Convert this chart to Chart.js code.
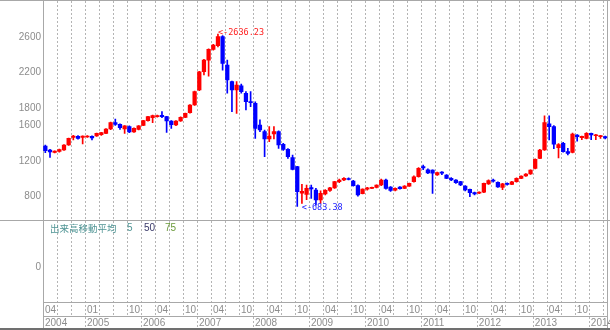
<!DOCTYPE html>
<html><head><meta charset="utf-8">
<script src="https://cdn.jsdelivr.net/npm/chart.js@4.4.1/dist/chart.umd.min.js"></script>
<style>html,body{margin:0;padding:0;background:#fff;overflow:hidden}canvas{display:block}</style>
</head><body>
<canvas id="c" width="610" height="330"></canvas>
<script>
const categories = [
"2004-04","2004-05","2004-06","2004-07","2004-08","2004-09","2004-10","2004-11","2004-12",
"2005-01","2005-02","2005-03","2005-04","2005-05","2005-06","2005-07","2005-08","2005-09","2005-10","2005-11","2005-12",
"2006-01","2006-02","2006-03","2006-04","2006-05","2006-06","2006-07","2006-08","2006-09","2006-10","2006-11","2006-12",
"2007-01","2007-02","2007-03","2007-04","2007-05","2007-06","2007-07","2007-08","2007-09","2007-10","2007-11","2007-12",
"2008-01","2008-02","2008-03","2008-04","2008-05","2008-06","2008-07","2008-08","2008-09","2008-10","2008-11","2008-12",
"2009-01","2009-02","2009-03","2009-04","2009-05","2009-06","2009-07","2009-08","2009-09","2009-10","2009-11","2009-12",
"2010-01","2010-02","2010-03","2010-04","2010-05","2010-06","2010-07","2010-08","2010-09","2010-10","2010-11","2010-12",
"2011-01","2011-02","2011-03","2011-04","2011-05","2011-06","2011-07","2011-08","2011-09","2011-10","2011-11","2011-12",
"2012-01","2012-02","2012-03","2012-04","2012-05","2012-06","2012-07","2012-08","2012-09","2012-10","2012-11","2012-12",
"2013-01","2013-02","2013-03","2013-04","2013-05","2013-06","2013-07","2013-08","2013-09","2013-10","2013-11","2013-12",
"2014-01","2014-02","2014-03","2014-04"];

const opens = [1369,1324,1297,1309,1324,1380,1467,1479,1467,1471,
1479,1482,1497,1512,1562,1633,1614,1562,1588,1528,
1558,1603,1656,1690,1701,1716,1701,1652,1607,1652,
1694,1747,1833,2003,2210,2342,2463,2505,2607,2286,
2098,2003,2049,1966,1871,1852,1607,1531,1448,1505,
1531,1388,1331,1237,1135,835,821,897,870,757,
825,865,895,965,985,1000,972,920,830,880,
890,901,927,984,905,868,905,890,915,965,
1021,1135,1100,1097,1041,1070,1041,1003,984,965,
916,878,841,835,845,940,980,958,900,945,
935,965,1003,1029,1052,1116,1229,1324,1620,1590,
1350,1399,1305,1295,1494,1462,1456,1512,1485,1475,
1475];
const highs = [1380,1331,1315,1335,1385,1460,1490,1486,1485,1486,
1485,1515,1525,1565,1640,1675,1620,1600,1596,1575,
1600,1660,1705,1718,1718,1758,1705,1656,1656,1698,
1743,1838,1990,2215,2350,2470,2520,2636.23,2620,2342,
2105,2098,2071,1984,1984,1870,1664,1550,1588,1588,
1540,1400,1340,1267,1140,935,927,927,889,860,
875,900,970,995,1012,1008,980,930,885,900,
905,930,995,995,910,895,910,920,950,1030,
1125,1154,1110,1100,1075,1080,1045,1010,990,970,
920,882,848,850,950,985,995,962,945,952,
968,1008,1032,1056,1100,1225,1330,1710,1712,1600,
1395,1410,1342,1515,1498,1482,1520,1515,1500,1490,
1482];
const lows = [1294,1241,1290,1300,1318,1375,1437,1445,1392,1465,
1437,1478,1490,1508,1555,1603,1558,1512,1520,1522,
1552,1598,1650,1633,1695,1690,1524,1569,1600,1648,
1690,1740,1828,1995,2173,2161,2455,2490,2229,1966,
1758,1739,1966,1777,1815,1456,1530,1248,1418,1448,
1343,1320,1229,1097,683.38,720,760,776,700,719,
815,855,890,955,975,985,915,800,825,870,
885,895,920,880,855,860,880,885,910,960,
1015,1100,1055,833,1035,1045,1000,975,945,920,
860,795,815,828,840,935,960,900,875,925,
930,960,998,1025,1048,1110,1225,1318,1437,1340,
1235,1300,1267,1290,1425,1440,1450,1440,1440,1455,
1450];
const closes = [1316,1301,1312,1328,1380,1456,1482,1456,1482,1482,
1460,1512,1520,1562,1633,1614,1577,1596,1528,1569,
1596,1656,1701,1713,1713,1701,1652,1611,1652,1694,
1739,1833,1984,2210,2342,2463,2512,2607,2305,2117,
2003,2060,1984,1871,1860,1569,1550,1448,1482,1531,
1380,1331,1248,1105,852,855,889,882,757,833,
868,895,965,984,1002,990,920,815,880,895,
900,927,984,890,865,890,885,915,945,1021,
1116,1120,1065,1060,1067,1062,1003,984,954,927,
871,841,825,845,946,978,972,905,940,935,
962,1003,1029,1052,1097,1218,1324,1633,1588,1390,
1385,1305,1286,1505,1475,1478,1512,1494,1495,1485,
1460];

const yTickValues = [800,1200,1600,1800,2200,2600];
const volumeTickLabel = "0";
const monthTickLabels = [["2004-04","04"],["2005-01","01"],["2005-10","10"],["2006-04","04"],["2006-10","10"],
["2007-04","04"],["2007-10","10"],["2008-04","04"],["2008-10","10"],["2009-04","04"],["2009-10","10"],
["2010-04","04"],["2010-10","10"],["2011-04","04"],["2011-10","10"],["2012-04","04"],["2012-10","10"],
["2013-04","04"],["2013-10","10"]];
const yearTickLabels = [["2004-04","2004"],["2005-01","2005"],["2006-01","2006"],["2007-01","2007"],["2008-01","2008"],
["2009-01","2009"],["2010-01","2010"],["2011-01","2011"],["2012-01","2012"],["2013-01","2013"],["2014-01","2014"]];
const volumeLegendTitle = "出来高移動平均";
const volumeLegendPeriods = ["5","50","75"];

const UP = '#ff0000', DOWN = '#0000ff';
const isUp = i => closes[i] >= opens[i];
const LABEL_FONT = "'Liberation Sans Narrow','Liberation Sans',sans-serif";

function hline(ctx, x1, x2, y){ ctx.beginPath(); ctx.moveTo(x1, y); ctx.lineTo(x2, y); ctx.stroke(); }
function vline(ctx, x, y1, y2){ ctx.beginPath(); ctx.moveTo(x, y1); ctx.lineTo(x, y2); ctx.stroke(); }

const framePlugin = {
  id: 'frame',
  beforeDatasetsDraw(chart){
    const {ctx, scales:{x}} = chart;
    const slot = x.getPixelForValue(1) - x.getPixelForValue(0);
    const edge = i => Math.round(x.getPixelForValue(i) - slot/2) + 0.5;
    ctx.save();
    ctx.lineWidth = 1; ctx.strokeStyle = '#b4b4b4'; ctx.setLineDash([2,2]);
    categories.forEach((c, i) => {
      const m = c.slice(5);
      if (i > 0 && (m === '01' || m === '04' || m === '07' || m === '10')) vline(ctx, edge(i), 1, 316);
    });
    yearTickLabels.forEach(([c]) => { const i = categories.indexOf(c); if (i > 0) vline(ctx, edge(i), 317, 328); });
    ctx.setLineDash([]);
    ctx.strokeStyle = '#a8a8a8';
    hline(ctx, 0, 610, 0.5);
    hline(ctx, 0, 610, 220.5);
    hline(ctx, 43, 608, 302.5);
    hline(ctx, 43, 608, 316.5);
    vline(ctx, 43.5, 0, 330);
    vline(ctx, 607.5, 0, 330);
    ctx.strokeStyle = '#707070'; ctx.lineWidth = 2;
    hline(ctx, 0, 610, 329);
    ctx.restore();
  },
  afterDraw(chart){
    const {ctx, scales:{x, y}} = chart;
    const slot = x.getPixelForValue(1) - x.getPixelForValue(0);
    const edge = i => x.getPixelForValue(i) - slot/2;
    ctx.save();
    ctx.font = "10px " + LABEL_FONT;
    ctx.fillStyle = '#8c8c8c';
    ctx.textBaseline = 'middle';
    ctx.textAlign = 'left';
    monthTickLabels.forEach(([c, t]) => ctx.fillText(t, edge(categories.indexOf(c)) + 2, 310));
    yearTickLabels.forEach(([c, t]) => ctx.fillText(t, edge(categories.indexOf(c)) + 2, 323));
    ctx.textAlign = 'right';
    ctx.fillText(volumeTickLabel, 41, 267);
    // volume legend
    ctx.textAlign = 'left';
    ctx.font = "9.5px 'Noto Sans CJK JP',sans-serif";
    ctx.fillStyle = '#4f9494';
    ctx.fillText(volumeLegendTitle, 50, 228);
    ctx.font = "10px " + LABEL_FONT;
    ctx.fillStyle = '#4f9494'; ctx.fillText(volumeLegendPeriods[0], 127, 228);
    ctx.fillStyle = '#3a3a6a'; ctx.fillText(volumeLegendPeriods[1], 144, 228);
    ctx.fillStyle = '#6a9a3a'; ctx.fillText(volumeLegendPeriods[2], 165, 228);
    // high / low annotations
    let hi = 0, lo = 0;
    highs.forEach((v, i) => { if (v > highs[hi]) hi = i; });
    lows.forEach((v, i) => { if (v < lows[lo]) lo = i; });
    ctx.font = "8.5px 'DejaVu Sans Mono',monospace";
    ctx.fillStyle = '#ff2020';
    ctx.fillText('<-' + highs[hi].toFixed(2), x.getPixelForValue(hi), y.getPixelForValue(highs[hi]) - 1);
    ctx.fillStyle = '#2020ff';
    ctx.fillText('<-' + lows[lo].toFixed(2), x.getPixelForValue(lo) + 4.5, y.getPixelForValue(lows[lo]) + 1);
    ctx.restore();
  }
};

new Chart(document.getElementById('c'), {
  type: 'bar',
  data: {
    labels: categories,
    datasets: [
      { label: 'body', data: categories.map((_, i) => [opens[i], closes[i]]),
        backgroundColor: c => isUp(c.dataIndex) ? UP : DOWN,
        barThickness: 3.6, minBarLength: 1, grouped: false, order: 0, borderWidth: 0 },
      { label: 'wick', data: categories.map((_, i) => [lows[i], highs[i]]),
        backgroundColor: c => isUp(c.dataIndex) ? UP : DOWN,
        barThickness: 1, grouped: false, order: 1, borderWidth: 0 }
    ]
  },
  options: {
    responsive: false, animation: false, devicePixelRatio: 1,
    layout: { padding: { top: 1, right: 2.5, bottom: 110, left: 0 } },
    plugins: { legend: { display: false }, tooltip: { enabled: false } },
    scales: {
      x: { type: 'category', display: false, offset: true, grid: { display: false } },
      y: {
        min: 531, max: 3011,
        grid: { display: false, drawTicks: false }, border: { display: false },
        afterBuildTicks: s => { s.ticks = yTickValues.map(v => ({ value: v })); },
        afterFit: s => { s.width = 43; s.paddingTop = 0; s.paddingBottom = 0; },
        ticks: { padding: 2, color: '#8c8c8c', autoSkip: false, font: { family: LABEL_FONT, size: 10 },
                 callback: v => String(v) }
      }
    }
  },
  plugins: [framePlugin]
});
</script>
</body></html>
